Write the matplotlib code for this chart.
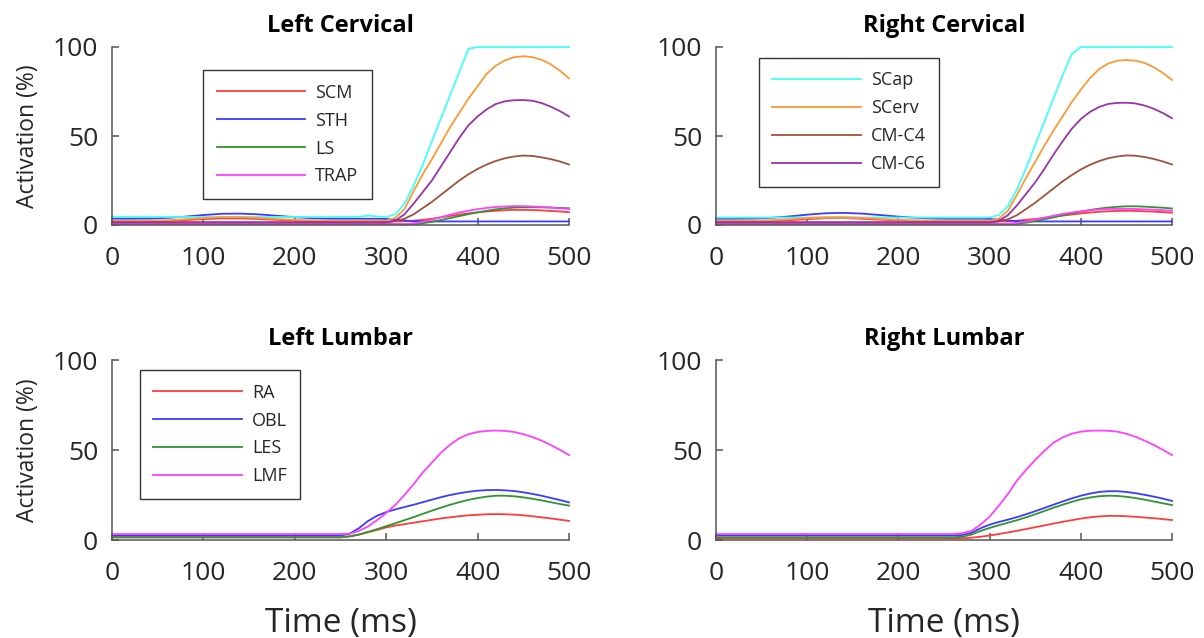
import numpy as np
import matplotlib
matplotlib.use('Agg')
import matplotlib.pyplot as plt

plt.rcParams['font.family'] = ['Open Sans', 'DejaVu Sans']

# time axis (ms)
time = [0, 20, 40, 60, 80, 100, 120, 140, 160, 180, 200, 220, 240,
        250, 260, 270, 280, 290, 300, 310, 320, 330, 340, 350, 360, 370,
        380, 390, 400, 410, 420, 430, 440, 450, 460, 470, 480, 490, 500]

# ---- left cervical ----
scm_l = [2, 2, 2, 2.2, 2.7, 3.3, 3.7, 3.7, 3.4, 2.9, 2.4, 2.1, 2,
         2, 2, 2, 2, 2, 2, 2, 2.1, 2.4, 2.9, 3.5, 4.3, 5.1,
         5.8, 6.5, 7.1, 7.6, 8, 8.3, 8.5, 8.5, 8.4, 8.2, 7.9, 7.6, 7.2]
sth_l = [3.5, 3.5, 3.6, 4, 4.7, 5.6, 6.3, 6.4, 6, 5.2, 4.4, 3.8, 3.5,
         3.5, 3.5, 3.5, 3.5, 3.5, 3.4, 3, 2.5, 2.2, 2.1, 2, 2, 2,
         2, 2, 2, 2, 2, 2, 2, 2, 2, 2, 2, 2, 2]
ls_l = [1, 1, 1, 1, 1, 1, 1, 1, 1, 1, 1, 1, 1,
        1, 1, 1, 1, 1, 0.8, 0.5, 0.3, 0.5, 1, 1.8, 2.8, 3.9,
        5, 6.1, 7.1, 8, 8.8, 9.4, 9.8, 10, 10, 9.9, 9.8, 9.6, 9.4]
trap_l = [0.5, 0.5, 0.5, 0.5, 0.5, 0.5, 0.5, 0.5, 0.5, 0.5, 0.5, 0.5, 0.5,
          0.5, 0.5, 0.5, 0.5, 0.5, 0.5, 0.5, 0.5, 1, 1.8, 3, 4.4, 5.8,
          7, 8, 8.9, 9.6, 10.1, 10.4, 10.6, 10.6, 10.4, 10.1, 9.8, 9.4, 9]
scap_l = [4.5, 4.5, 4.5, 4.5, 4.5, 4.5, 4.5, 4.5, 4.5, 4.5, 4.5, 4.5, 4.5,
          4.5, 4.5, 4.6, 5.3, 4.8, 4.5, 6, 12, 22, 34, 47, 60, 73,
          86, 99, 100, 100, 100, 100, 100, 100, 100, 100, 100, 100, 100]
scerv_l = [2.5, 2.5, 2.5, 2.7, 3.2, 3.9, 4.4, 4.4, 4, 3.4, 2.9, 2.6, 2.5,
           2.5, 2.5, 2.5, 2.5, 2.5, 2.5, 4, 9, 19, 28.5, 37, 46, 55,
           63, 71, 78, 85, 89.5, 92.5, 94.3, 94.8, 94.3, 92.8, 90.3, 86.7, 82.4]
cmc4_l = [1.5, 1.5, 1.5, 1.5, 1.5, 1.5, 1.5, 1.5, 1.5, 1.5, 1.5, 1.5, 1.5,
          1.5, 1.5, 1.5, 1.5, 1.5, 1.5, 2.2, 3.5, 6, 9.5, 13, 17, 21,
          25, 28.5, 31.5, 34, 36, 37.5, 38.5, 39, 38.8, 38, 37, 35.7, 34]
cmc6_l = [1.5, 1.5, 1.5, 1.5, 1.5, 1.5, 1.5, 1.5, 1.5, 1.5, 1.5, 1.5, 1.5,
          1.5, 1.5, 1.5, 1.5, 1.5, 1.5, 2.5, 6, 12, 18.5, 25, 33, 41,
          49, 56, 61, 65, 68, 69.5, 70.1, 70.2, 69.8, 68.5, 66.5, 64, 61]

# ---- right cervical ----
scm_r = [2, 2, 2, 2.2, 2.7, 3.3, 3.8, 3.9, 3.5, 3, 2.5, 2.1, 2,
         2, 2, 2, 2, 2, 2, 2, 2.1, 2.4, 2.9, 3.4, 4, 4.7,
         5.3, 5.9, 6.5, 7, 7.4, 7.7, 7.9, 8, 7.9, 7.7, 7.5, 7.2, 6.9]
sth_r = [3.5, 3.5, 3.6, 4, 4.8, 5.8, 6.6, 6.8, 6.4, 5.6, 4.7, 4, 3.6,
         3.5, 3.5, 3.5, 3.5, 3.5, 3.4, 3, 2.5, 2.2, 2.1, 2, 2, 2,
         2, 2, 2, 2, 2, 2, 2, 2, 2, 2, 2, 2, 2]
ls_r = [1, 1, 1, 1, 1, 1, 1, 1, 1, 1, 1, 1, 1,
        1, 1, 1, 1, 1, 0.8, 0.5, 0.4, 0.7, 1.3, 2.2, 3.2, 4.3,
        5.4, 6.5, 7.5, 8.4, 9.2, 9.8, 10.2, 10.5, 10.5, 10.3, 10, 9.7, 9.3]
trap_r = [0.5, 0.5, 0.5, 0.5, 0.5, 0.5, 0.5, 0.5, 0.5, 0.5, 0.5, 0.5, 0.5,
          0.5, 0.5, 0.5, 0.5, 0.5, 0.5, 0.5, 0.7, 1.2, 2, 3, 4.1, 5.2,
          6.2, 7, 7.7, 8.3, 8.7, 9, 9.1, 9.1, 9, 8.8, 8.6, 8.3, 8]
scap_r = [4.2, 4.2, 4.2, 4.2, 4.2, 4.2, 4.2, 4.2, 4.2, 4.2, 4.2, 4.2, 4.2,
          4.2, 4.2, 4.2, 4.2, 4.2, 4.3, 5.5, 10.5, 20, 32, 45, 58, 71,
          84, 96, 100, 100, 100, 100, 100, 100, 100, 100, 100, 100, 100]
scerv_r = [2.5, 2.5, 2.5, 2.7, 3.2, 3.9, 4.4, 4.4, 4, 3.4, 2.9, 2.6, 2.5,
           2.5, 2.5, 2.5, 2.5, 2.5, 2.5, 3.5, 8, 17, 26.5, 35.5, 44.5, 53,
           61, 69, 76, 82.5, 87.5, 90.7, 92.3, 92.7, 92.3, 91, 88.7, 85.4, 81.5]
cmc4_r = [1.5, 1.5, 1.5, 1.5, 1.5, 1.5, 1.5, 1.5, 1.5, 1.5, 1.5, 1.5, 1.5,
          1.5, 1.5, 1.5, 1.5, 1.5, 1.5, 2, 3.2, 5.5, 9, 12.5, 16.5, 20.5,
          24.5, 28, 31.2, 33.8, 35.9, 37.5, 38.5, 39.1, 38.9, 38.2, 37.1, 35.7, 34]
cmc6_r = [1.5, 1.5, 1.5, 1.5, 1.5, 1.5, 1.5, 1.5, 1.5, 1.5, 1.5, 1.5, 1.5,
          1.5, 1.5, 1.5, 1.5, 1.5, 1.5, 2.3, 5.5, 11, 17.5, 24, 31.5, 39.5,
          47, 54, 59.5, 63.5, 66.3, 68, 68.6, 68.7, 68.3, 67.1, 65.3, 62.9, 60]

# ---- left lumbar ----
ra_l = [1.5, 1.5, 1.5, 1.5, 1.5, 1.5, 1.5, 1.5, 1.5, 1.5, 1.5, 1.5, 1.5,
        1.5, 2, 3, 4.3, 5.6, 7, 8, 8.8, 9.6, 10.4, 11.2, 12, 12.6,
        13.2, 13.7, 14, 14.3, 14.4, 14.3, 14.1, 13.7, 13.2, 12.6, 12, 11.3, 10.6]
obl_l = [2.5, 2.5, 2.5, 2.5, 2.5, 2.5, 2.5, 2.5, 2.5, 2.5, 2.5, 2.5, 2.5,
         2.5, 3.5, 6.5, 10.5, 13.5, 15.5, 17, 18.3, 19.6, 21, 22.4, 23.8, 25,
         26, 26.8, 27.4, 27.7, 27.8, 27.6, 27.2, 26.5, 25.6, 24.6, 23.4, 22.2, 20.9]
les_l = [1.5, 1.5, 1.5, 1.5, 1.5, 1.5, 1.5, 1.5, 1.5, 1.5, 1.5, 1.5, 1.5,
         1.5, 2, 3, 4.5, 6, 7.7, 9.3, 11, 12.7, 14.5, 16.3, 18, 19.6,
         21, 22.3, 23.3, 24.1, 24.6, 24.6, 24.3, 23.7, 22.9, 22, 21, 20, 19.1]
lmf_l = [3.3, 3.3, 3.3, 3.3, 3.3, 3.3, 3.3, 3.3, 3.3, 3.3, 3.3, 3.3, 3.3,
         3.3, 3.5, 5, 7.5, 11, 15, 19.5, 25, 31, 37.5, 43, 48.5, 53,
         56.5, 58.8, 60, 60.6, 60.8, 60.6, 60, 58.8, 57.2, 55.2, 52.8, 50.1, 47.2]

# ---- right lumbar ----
ra_r = [1, 1, 1, 1, 1, 1, 1, 1, 1, 1, 1, 1, 1,
        1, 1, 1, 1.3, 1.8, 2.5, 3.3, 4.2, 5.1, 6.1, 7.1, 8.1, 9.1,
        10.1, 11, 11.9, 12.6, 13.1, 13.4, 13.4, 13.2, 12.9, 12.5, 12.1, 11.6, 11.1]
obl_r = [2.5, 2.5, 2.5, 2.5, 2.5, 2.5, 2.5, 2.5, 2.5, 2.5, 2.5, 2.5, 2.5,
         2.5, 2.5, 2.8, 4, 6.5, 8.5, 10, 11.3, 12.7, 14.3, 16, 17.8, 19.6,
         21.4, 23.1, 24.6, 25.8, 26.7, 27.1, 27.1, 26.7, 26, 25.1, 24.1, 23, 21.7]
les_r = [1.5, 1.5, 1.5, 1.5, 1.5, 1.5, 1.5, 1.5, 1.5, 1.5, 1.5, 1.5, 1.5,
         1.5, 1.5, 1.8, 3, 5, 6.7, 8.2, 9.6, 11, 12.6, 14.3, 16.1, 17.9,
         19.6, 21.2, 22.6, 23.6, 24.3, 24.6, 24.5, 24, 23.3, 22.4, 21.4, 20.4, 19.4]
lmf_r = [3.3, 3.3, 3.3, 3.3, 3.3, 3.3, 3.3, 3.3, 3.3, 3.3, 3.3, 3.3, 3.3,
         3.3, 3.3, 3.8, 5, 8.5, 13, 19, 25.5, 33, 39, 44.5, 49.5, 54,
         57, 59, 60.2, 60.7, 60.8, 60.7, 60.2, 59, 57.3, 55.2, 52.8, 50.1, 47.2]

cerv_names = ['SCM', 'STH', 'LS', 'TRAP', 'SCap', 'SCerv', 'CM-C4', 'CM-C6']
cerv_colors = ['#ff3b3b', '#3b3bff', '#2e962e', '#ff40ff',
               '#40ffff', '#ff9933', '#a0523c', '#9933aa']
lumb_names = ['RA', 'OBL', 'LES', 'LMF']
lumb_colors = ['#ff3b3b', '#3b3bff', '#2e962e', '#ff40ff']

W, H = 1204, 638
fig = plt.figure(figsize=(W / 100, H / 100), dpi=100)

def px_axes(x0, x1, ytop, ybot):
    return fig.add_axes([x0 / W, 1 - ybot / H, (x1 - x0) / W, (ybot - ytop) / H])

ax_lc = px_axes(112, 569, 47, 225)
ax_rc = px_axes(716, 1172, 47, 225)
ax_ll = px_axes(112, 569, 360, 540)
ax_rl = px_axes(716, 1172, 360, 540)

gray = '#262626'

def style(ax, title):
    ax.set_xlim(0, 500)
    ax.set_ylim(0, 100)
    ax.set_xticks([0, 100, 200, 300, 400, 500])
    ax.set_yticks([0, 50, 100])
    for s in ['top', 'right']:
        ax.spines[s].set_visible(False)
    for s in ['left', 'bottom']:
        ax.spines[s].set_color('#555555')
        ax.spines[s].set_linewidth(1.1)
    ax.tick_params(axis='x', direction='in', length=5, width=1.1, color='#555555',
                   labelsize=19, labelcolor=gray, pad=15)
    ax.tick_params(axis='y', direction='in', length=5, width=1.1, color='#555555',
                   labelsize=19, labelcolor=gray, pad=10)
    ax.set_title(title, fontsize=17, fontweight='bold', color='black', pad=11)

def legend(ax, lines, names, anchor):
    leg = ax.legend(lines, names, loc='upper left', bbox_to_anchor=anchor,
                    borderaxespad=0, fontsize=13, handlelength=4.9,
                    handletextpad=0.55, labelspacing=0.55, borderpad=0.75,
                    fancybox=False, framealpha=1, edgecolor='#333333')
    leg.get_frame().set_linewidth(1.0)
    for t in leg.get_texts():
        t.set_color(gray)

lw = 1.3
left_c = [scm_l, sth_l, ls_l, trap_l, scap_l, scerv_l, cmc4_l, cmc6_l]
right_c = [scm_r, sth_r, ls_r, trap_r, scap_r, scerv_r, cmc4_r, cmc6_r]
lines_lc = [ax_lc.plot(time, y, color=c, lw=lw, clip_on=False)[0]
            for y, c in zip(left_c, cerv_colors)]
lines_rc = [ax_rc.plot(time, y, color=c, lw=lw, clip_on=False)[0]
            for y, c in zip(right_c, cerv_colors)]
lines_ll = [ax_ll.plot(time, y, color=c, lw=lw, clip_on=False)[0]
            for y, c in zip([ra_l, obl_l, les_l, lmf_l], lumb_colors)]
for y, c in zip([ra_r, obl_r, les_r, lmf_r], lumb_colors):
    ax_rl.plot(time, y, color=c, lw=lw, clip_on=False)

style(ax_lc, 'Left Cervical')
style(ax_rc, 'Right Cervical')
style(ax_ll, 'Left Lumbar')
style(ax_rl, 'Right Lumbar')

legend(ax_lc, lines_lc[:4], cerv_names[:4], (0.2, 0.87))
legend(ax_rc, lines_rc[4:], cerv_names[4:], (0.094, 0.94))
legend(ax_ll, lines_ll, lumb_names, (0.061, 0.944))

for ax in [ax_lc, ax_ll]:
    ax.set_ylabel('Activation (%)', fontsize=16.5, color=gray, labelpad=9)
for ax in [ax_ll, ax_rl]:
    ax.set_xlabel('Time (ms)', fontsize=24, color=gray, labelpad=15)

fig.savefig('out.png', dpi=100)
